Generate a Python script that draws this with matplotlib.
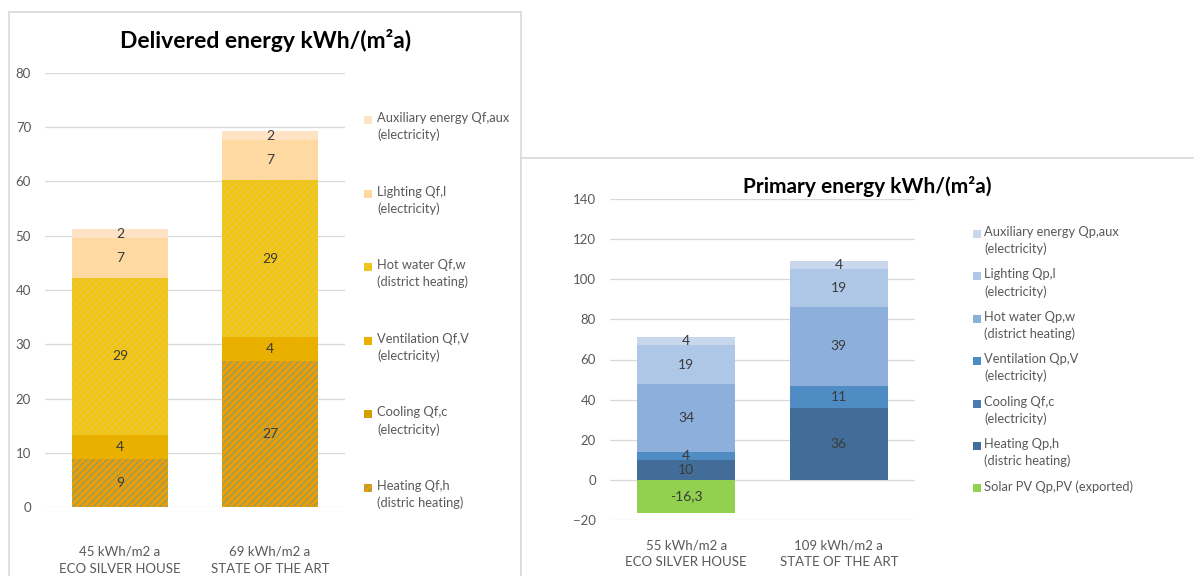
import numpy as np
import matplotlib.pyplot as plt
from matplotlib.patches import Rectangle

plt.rcParams["font.family"] = ["Lato", "DejaVu Sans"]
plt.rcParams["hatch.linewidth"] = 0.7

# Delivered energy, kWh/(m2a)
del_cats = ["45 kWh/m2 a\nECO SILVER HOUSE", "69 kWh/m2 a\nSTATE OF THE ART"]
del_labels = ["Heating Qf,h\n(distric heating)", "Cooling Qf,c\n(electricity)",
              "Ventilation Qf,V\n(electricity)", "Hot water Qf,w\n(district heating)",
              "Lighting Qf,l\n(electricity)", "Auxiliary energy Qf,aux\n(electricity)"]
del_heating = [8.9, 26.9]
del_cooling = [0, 0]
del_ventilation = [4.4, 4.4]
del_hot_water = [29.0, 29.0]
del_lighting = [7.2, 7.3]
del_aux = [1.7, 1.7]

# Primary energy, kWh/(m2a)
prim_cats = ["55 kWh/m2 a\nECO SILVER HOUSE", "109 kWh/m2 a\nSTATE OF THE ART"]
prim_labels = ["Solar PV Qp,PV (exported)", "Heating Qp,h\n(distric heating)",
               "Cooling Qf,c\n(electricity)", "Ventilation Qp,V\n(electricity)",
               "Hot water Qp,w\n(district heating)", "Lighting Qp,l\n(electricity)",
               "Auxiliary energy Qp,aux\n(electricity)"]
prim_solar = [-16.3, 0]
prim_heating = [10, 36]
prim_cooling = [0, 0]
prim_ventilation = [4, 11]
prim_hot_water = [34, 39]
prim_lighting = [19, 19]
prim_aux = [4, 4]

W, H = 1194, 576
fig = plt.figure(figsize=(W / 100, H / 100), dpi=100)

grey = "#595959"
label_col = "#3A3A3A"
border = "#D9D9D9"


def fx(px):
    return px / W


def fy(py):
    return 1 - py / H


# chart frames
fig.add_artist(Rectangle((fx(9), fy(590)), fx(521 - 9), (590 - 12) / H, transform=fig.transFigure,
                         facecolor="white", edgecolor=border, lw=1.2, zorder=0))
fig.add_artist(Rectangle((fx(521), fy(590)), fx(1200 - 521), (590 - 158) / H, transform=fig.transFigure,
                         facecolor="white", edgecolor=border, lw=1.2, zorder=0))


def fmt(v):
    if float(v).is_integer():
        return "%d" % v
    return ("%.1f" % v).replace(".", ",")


def style_axes(ax):
    ax.set_facecolor("none")
    for s in ax.spines.values():
        s.set_visible(False)
    ax.yaxis.grid(True, color=border, lw=0.9)
    ax.set_axisbelow(True)
    ax.tick_params(length=0, colors=grey, labelsize=9.5)
    ax.tick_params(axis="y", pad=10)
    ax.tick_params(axis="x", pad=28)


# ---- delivered energy ----
ax1 = fig.add_axes([fx(45), fy(507), fx(345 - 45), (507 - 73) / H])
style_axes(ax1)
x = np.arange(len(del_cats))
del_series = [
    (del_heating, dict(color="#EE9C05", hatch="/////", edgecolor="#6AA386")),
    (del_cooling, dict(color="#D4A000")),
    (del_ventilation, dict(color="#E9B000")),
    (del_hot_water, dict(color="#F4C40F", hatch="/////", edgecolor="#DCCB62")),
    (del_lighting, dict(color="#FED9A2")),
    (del_aux, dict(color="#FDE3C4")),
]
bottom = np.zeros(len(x))
for vals, kw in del_series:
    vals = np.array(vals, dtype=float)
    ax1.bar(x, vals, 0.64, bottom=bottom, linewidth=0, **kw)
    for xi, b, v in zip(x, bottom, vals):
        if v != 0:
            ax1.text(xi, b + v / 2, "%.0f" % v, ha="center", va="center", fontsize=10, color=label_col)
    bottom += vals
ax1.set_xlim(-0.5, 1.5)
ax1.set_ylim(0, 80)
ax1.set_yticks(np.arange(0, 81, 10))
ax1.set_xticks(x)
ax1.set_xticklabels(del_cats, linespacing=1.5)
fig.text(fx(266), fy(40), "Delivered energy kWh/(m²a)", ha="center", va="center",
         fontsize=16.5, fontweight="bold", color="black")

# legend, top entry first
for i, (lab, (vals, kw)) in enumerate(zip(del_labels[::-1], del_series[::-1])):
    y0 = 120 + i * 73.6
    fig.add_artist(Rectangle((fx(364), fy(y0 + 4)), fx(8), 8 / H, transform=fig.transFigure,
                             facecolor=kw["color"], hatch=kw.get("hatch"),
                             edgecolor=kw.get("edgecolor", kw["color"]), lw=0))
    fig.text(fx(377), fy(y0 - 8), lab, ha="left", va="top", fontsize=9.3, color=grey, linespacing=1.45)

# ---- primary energy ----
ax2 = fig.add_axes([fx(610), fy(520), fx(915 - 610), (520 - 199) / H])
style_axes(ax2)
x = np.arange(len(prim_cats))
prim_series = [
    (prim_heating, "#416D98"),
    (prim_cooling, "#4A7CB0"),
    (prim_ventilation, "#4F8CC3"),
    (prim_hot_water, "#8CB0DB"),
    (prim_lighting, "#AFC7E6"),
    (prim_aux, "#C8D7EC"),
]
bottom = np.zeros(len(x))
for vals, col in prim_series:
    vals = np.array(vals, dtype=float)
    ax2.bar(x, vals, 0.64, bottom=bottom, color=col, linewidth=0)
    for xi, b, v in zip(x, bottom, vals):
        if v != 0:
            ax2.text(xi, b + v / 2, fmt(v), ha="center", va="center", fontsize=10, color=label_col)
    bottom += vals
solar = np.array(prim_solar, dtype=float)
ax2.bar(x, solar, 0.64, color="#92D050", linewidth=0)
for xi, v in zip(x, solar):
    if v != 0:
        ax2.text(xi, v / 2, fmt(v), ha="center", va="center", fontsize=10, color=label_col)
ax2.set_xlim(-0.5, 1.5)
ax2.set_ylim(-20, 140)
ax2.set_yticks(np.arange(-20, 141, 20))
ax2.set_xticks(x)
ax2.set_xticklabels(prim_cats, linespacing=1.5)
ax2.tick_params(axis="x", pad=14)
fig.text(fx(867), fy(186), "Primary energy kWh/(m²a)", ha="center", va="center",
         fontsize=15, fontweight="bold", color="black")

prim_colors = ["#92D050"] + [c for _, c in prim_series]
for i, (lab, col) in enumerate(zip(prim_labels[::-1], prim_colors[::-1])):
    y0 = 234 + i * 42.4
    fig.add_artist(Rectangle((fx(973), fy(y0 + 4)), fx(8), 8 / H, transform=fig.transFigure,
                             facecolor=col, lw=0))
    fig.text(fx(984), fy(y0 - 8), lab, ha="left", va="top", fontsize=9.3, color=grey, linespacing=1.45)

fig.savefig("out.png", dpi=100)
